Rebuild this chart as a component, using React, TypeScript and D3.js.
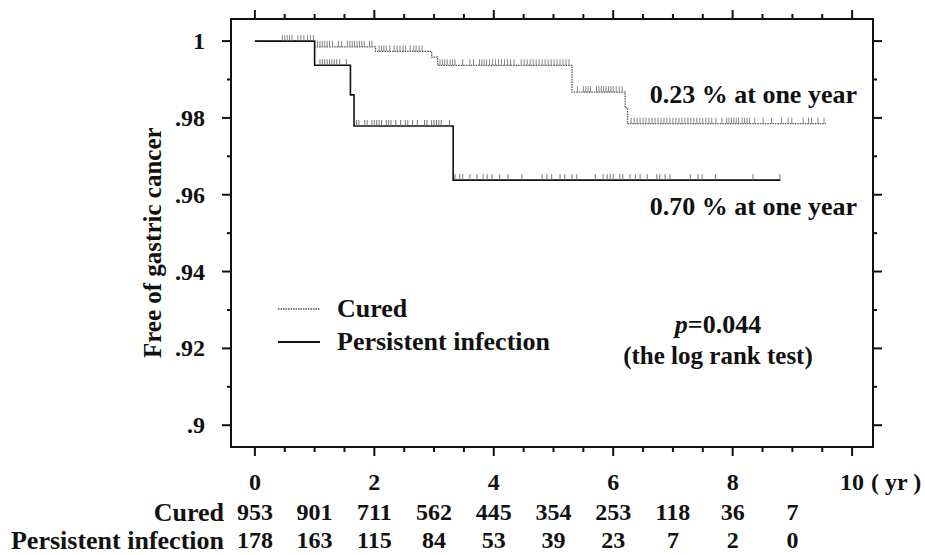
import React from 'react'
import * as d3 from 'd3'

// Kaplan-Meier steps (time in years, proportion free of cancer)
const curedStepTimes = [0, 1.0, 2.02, 2.96, 3.06, 5.31, 6.2, 6.24]
const curedStepValues = [1, 0.9985, 0.9973, 0.9958, 0.9937, 0.9867, 0.9826, 0.9785]
const curedEnd = 9.56
const persistentStepTimes = [0, 1.0, 1.6, 1.66, 3.32]
const persistentStepValues = [1, 0.9937, 0.986, 0.9779, 0.9638]
const persistentEnd = 8.8

// censored observations (tick marks on the curves)
const curedCensored = [
  0.46, 0.5, 0.54, 0.58, 0.62, 0.72, 0.77, 0.82, 0.88, 0.93, 0.98,
  1.05, 1.09, 1.13, 1.17, 1.21, 1.25, 1.3, 1.4, 1.45, 1.55, 1.59, 1.63, 1.67, 1.71, 1.75, 1.79, 1.83, 1.92, 1.96,
  2.08, 2.12, 2.16, 2.2, 2.26, 2.33, 2.38, 2.43, 2.48, 2.52, 2.6, 2.66, 2.7, 2.75, 2.8,
  3.1, 3.14, 3.18, 3.22, 3.27, 3.31, 3.35, 3.48, 3.6, 3.66, 3.76, 3.8, 3.84, 3.88, 3.93, 3.98, 4.03, 4.08,
  4.13, 4.18, 4.23, 4.28, 4.34, 4.46, 4.51, 4.56, 4.61, 4.66, 4.71, 4.76, 4.81, 4.86, 4.91, 4.96, 5.01,
  5.06, 5.11, 5.16, 5.21, 5.26,
  5.4, 5.5, 5.54, 5.58, 5.62, 5.72, 5.76, 5.8, 5.84, 5.88, 5.92, 5.96, 6.0, 6.05, 6.1, 6.15,
  6.3, 6.35, 6.4, 6.45, 6.5, 6.55, 6.6, 6.65, 6.7, 6.75, 6.8, 6.85, 6.9, 6.95, 7.0, 7.05, 7.1, 7.15, 7.2,
  7.25, 7.3, 7.35, 7.4, 7.45, 7.5, 7.55, 7.6, 7.65, 7.72, 7.82, 7.9, 7.94, 7.98, 8.02, 8.06, 8.1, 8.16,
  8.2, 8.24, 8.28, 8.37, 8.51, 8.65, 8.82, 8.93, 8.99, 9.18, 9.27, 9.32, 9.43, 9.53
]
const persistentCensored = [
  1.09, 1.13, 1.17, 1.21, 1.25, 1.29, 1.33, 1.37, 1.42, 1.53,
  1.7, 1.74, 1.84, 1.88, 1.96, 2.0, 2.04, 2.08, 2.12, 2.2, 2.24, 2.28, 2.36, 2.44, 2.52, 2.56, 2.64, 2.72,
  2.84, 2.88, 2.96, 3.0, 3.04, 3.08, 3.12, 3.26,
  3.35, 3.43, 3.48, 3.6, 3.72, 3.82, 3.89, 3.97, 4.1, 4.24, 4.47, 4.81, 4.89, 4.97, 5.11, 5.19, 5.31, 5.39,
  5.7, 5.83, 5.9, 5.95, 6.0, 6.11, 6.16, 6.28, 6.37, 6.45, 6.57, 6.73, 6.78, 6.87, 6.95, 7.29, 7.42, 7.49,
  7.71, 8.34, 8.79
]

// numbers at risk
const riskYears = [0, 1, 2, 3, 4, 5, 6, 7, 8, 9]
const curedAtRisk = [953, 901, 711, 562, 445, 354, 253, 118, 36, 7]
const persistentAtRisk = [178, 163, 115, 84, 53, 39, 23, 7, 2, 0]

const xTickLabels = ['0', '2', '4', '6', '8', '10']
const yTickLabels = ['.9', '.92', '.94', '.96', '.98', '1']

const FONT = "'Liberation Serif', 'Times New Roman', serif"

function T({ x, y, size = 26, anchor = 'middle', rotate = 0, children }) {
  return (
    <text
      transform={`translate(${x},${y})${rotate ? ` rotate(${rotate})` : ''}`}
      textAnchor={anchor}
      dominantBaseline="central"
      fontSize={size}
      fontWeight="bold"
      fontFamily={FONT}
      fill="#111"
    >
      {children}
    </text>
  )
}

function survAt(times, values, t) {
  let v = values[0]
  for (let i = 0; i < times.length; i++) if (times[i] <= t) v = values[i]
  return v
}

export default function App() {
  const left = 231, right = 873, top = 19, bottom = 447
  const x = d3.scaleLinear().domain([-0.4, 10.35]).range([left, right])
  const y = d3.scaleLinear().domain([0.89433, 1.00575]).range([bottom, top])

  const line = d3.line().x(d => x(d[0])).y(d => y(d[1])).curve(d3.curveStepAfter)
  const curedPts = curedStepTimes.map((t, i) => [t, curedStepValues[i]])
  curedPts.push([curedEnd, curedStepValues[curedStepValues.length - 1]])
  const persPts = persistentStepTimes.map((t, i) => [t, persistentStepValues[i]])
  persPts.push([persistentEnd, persistentStepValues[persistentStepValues.length - 1]])

  const xMinor = d3.range(0, 10.01, 0.5)
  const yTicks = d3.range(0, 11).map(i => 0.9 + i * 0.01)

  return (
    <svg width={925} height={555} style={{ position: 'absolute', left: 0, top: 0, background: '#fff' }}>
      {/* frame */}
      <rect x={left} y={top} width={right - left} height={bottom - top} fill="none" stroke="#111" strokeWidth={2} />

      {/* x ticks, top and bottom */}
      {xMinor.map(t => {
        const major = Math.abs(t % 2) < 1e-6
        const len = major ? 9 : 5
        return (
          <g key={'x' + t} stroke="#111" strokeWidth={2}>
            <line x1={x(t)} x2={x(t)} y1={bottom} y2={bottom + len} />
            <line x1={x(t)} x2={x(t)} y1={top} y2={top - len} />
          </g>
        )
      })}
      {/* y ticks, left and right */}
      {yTicks.map((v, i) => {
        const major = i % 2 === 0
        const len = major ? 9 : 4
        return (
          <g key={'y' + i} stroke="#111" strokeWidth={2}>
            <line x1={left} x2={left - len} y1={y(v)} y2={y(v)} />
            <line x1={right} x2={right + len} y1={y(v)} y2={y(v)} />
          </g>
        )
      })}

      {yTickLabels.map((lab, i) => (
        <T key={lab} x={205} y={y(0.9 + i * 0.02)} size={24} anchor="end">{lab}</T>
      ))}
      {xTickLabels.map((lab, i) => (
        <T key={lab} x={x(i * 2)} y={482} size={24}>{lab}</T>
      ))}
      <T x={871} y={482} size={24} anchor="start">( yr )</T>

      <T x={152} y={y(0.9475)} size={25} rotate={-90}>Free of gastric cancer</T>

      {/* curves */}
      <path d={line(curedPts)} fill="none" stroke="#555" strokeWidth={1.3} strokeDasharray="1.5,1" />
      <path d={line(persPts)} fill="none" stroke="#111" strokeWidth={1.6} />
      {curedCensored.map((t, i) => {
        const yy = y(survAt(curedStepTimes, curedStepValues, t))
        return <line key={'cc' + i} x1={x(t)} x2={x(t)} y1={yy} y2={yy - 6} stroke="#777" strokeWidth={0.9} />
      })}
      {persistentCensored.map((t, i) => {
        const yy = y(survAt(persistentStepTimes, persistentStepValues, t))
        return <line key={'pc' + i} x1={x(t)} x2={x(t)} y1={yy} y2={yy - 6} stroke="#666" strokeWidth={0.9} />
      })}

      <T x={857} y={94} size={26} anchor="end">0.23 % at one year</T>
      <T x={857} y={206} size={26} anchor="end">0.70 % at one year</T>

      {/* legend */}
      <line x1={278} x2={320} y1={309} y2={309} stroke="#555" strokeWidth={1.3} strokeDasharray="1.5,1" />
      <line x1={278} x2={320} y1={342} y2={342} stroke="#111" strokeWidth={2} />
      <T x={337} y={308} size={26} anchor="start">Cured</T>
      <T x={337} y={341} size={26} anchor="start">Persistent infection</T>

      <text
        transform="translate(718,324)"
        textAnchor="middle"
        dominantBaseline="central"
        fontSize={26}
        fontWeight="bold"
        fontFamily={FONT}
        fill="#111"
      >
        <tspan fontStyle="italic">p</tspan>=0.044
      </text>
      <T x={718} y={355} size={25}>(the log rank test)</T>

      {/* numbers at risk */}
      <T x={224} y={512} size={26} anchor="end">Cured</T>
      <T x={224} y={540} size={26} anchor="end">Persistent infection</T>
      {riskYears.map((t, i) => (
        <g key={'r' + t}>
          <T x={x(t)} y={512} size={24}>{curedAtRisk[i]}</T>
          <T x={x(t)} y={540} size={24}>{persistentAtRisk[i]}</T>
        </g>
      ))}
    </svg>
  )
}
